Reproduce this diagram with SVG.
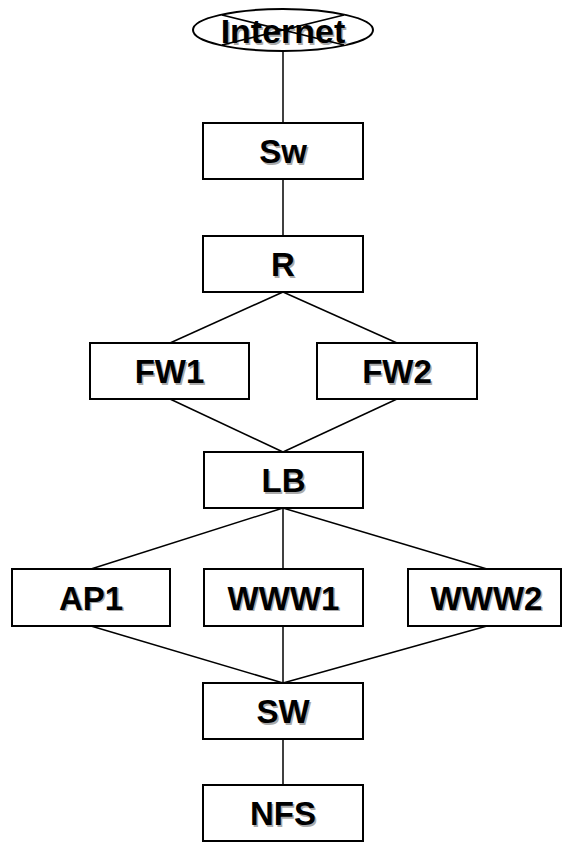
<svg xmlns="http://www.w3.org/2000/svg" width="562" height="842" viewBox="0 0 562 842">
<style>
.box{fill:#fff;stroke:#000;stroke-width:2}
.ln{stroke:#000;stroke-width:1.5;fill:none}
.t{font-family:"Liberation Sans",Arial,sans-serif;font-weight:bold;font-size:33px;text-anchor:middle;fill:#000}
.s{fill:#aaaaaa}
.it{font-size:34px}
</style>
<rect width="562" height="842" fill="#fff"/>
<g id="connectors">
<line class="ln" x1="283" y1="51" x2="283" y2="123"/>
<line class="ln" x1="283" y1="179" x2="283" y2="236"/>
<line class="ln" x1="283" y1="292" x2="170" y2="343"/>
<line class="ln" x1="283" y1="292" x2="397" y2="343"/>
<line class="ln" x1="170" y1="399" x2="283" y2="452"/>
<line class="ln" x1="397" y1="399" x2="283" y2="452"/>
<line class="ln" x1="283" y1="508" x2="91" y2="569"/>
<line class="ln" x1="283" y1="508" x2="283" y2="569"/>
<line class="ln" x1="283" y1="508" x2="487" y2="569"/>
<line class="ln" x1="91" y1="626" x2="283" y2="683"/>
<line class="ln" x1="283" y1="626" x2="283" y2="683"/>
<line class="ln" x1="487" y1="626" x2="283" y2="683"/>
<line class="ln" x1="283" y1="739" x2="283" y2="785"/>
</g>
<g id="internet">
<ellipse class="box" cx="283" cy="30" rx="90" ry="21" stroke-width="1.5"/>
<text class="t s it" x="284.5" y="44.5">Internet</text>
<text class="t it" x="283" y="43">Internet</text>
<line class="ln" x1="222" y1="15" x2="344" y2="45"/>
<line class="ln" x1="222" y1="45" x2="344" y2="15"/>
</g>
<g id="sw1">
<rect class="box" x="203" y="123" width="160" height="56"/>
<text class="t s" x="284.5" y="164.5">Sw</text>
<text class="t" x="283" y="163">Sw</text>
</g>
<g id="r">
<rect class="box" x="203" y="236" width="160" height="56"/>
<text class="t s" x="284.5" y="277.5">R</text>
<text class="t" x="283" y="276">R</text>
</g>
<g id="fw1">
<rect class="box" x="90" y="343" width="159" height="56"/>
<text class="t s" x="171" y="384.5">FW1</text>
<text class="t" x="169.5" y="383">FW1</text>
</g>
<g id="fw2">
<rect class="box" x="317" y="343" width="160" height="56"/>
<text class="t s" x="398.5" y="384.5">FW2</text>
<text class="t" x="397" y="383">FW2</text>
</g>
<g id="lb">
<rect class="box" x="204" y="452" width="159" height="56"/>
<text class="t s" x="285" y="493.5">LB</text>
<text class="t" x="283.5" y="492">LB</text>
</g>
<g id="ap1">
<rect class="box" x="12" y="569" width="158" height="57"/>
<text class="t s" x="92.5" y="611">AP1</text>
<text class="t" x="91" y="609.5">AP1</text>
</g>
<g id="www1">
<rect class="box" x="204" y="569" width="159" height="57"/>
<text class="t s" x="285" y="611">WWW1</text>
<text class="t" x="283.5" y="609.5">WWW1</text>
</g>
<g id="www2">
<rect class="box" x="408" y="569" width="153" height="57"/>
<text class="t s" x="488" y="611">WWW2</text>
<text class="t" x="486.5" y="609.5">WWW2</text>
</g>
<g id="sw2">
<rect class="box" x="203" y="683" width="160" height="56"/>
<text class="t s" x="284.5" y="724.5">SW</text>
<text class="t" x="283" y="723">SW</text>
</g>
<g id="nfs">
<rect class="box" x="203" y="785" width="160" height="56"/>
<text class="t s" x="284.5" y="826.5">NFS</text>
<text class="t" x="283" y="825">NFS</text>
</g>
</svg>
